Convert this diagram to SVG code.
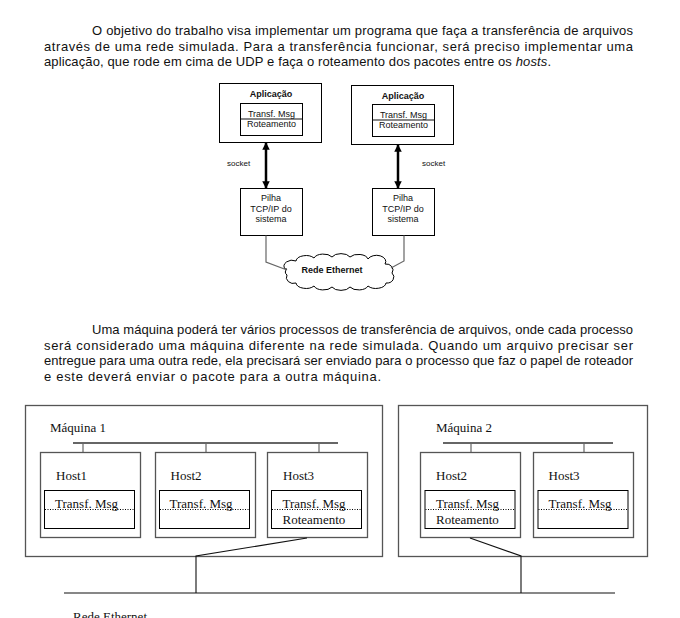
<svg xmlns="http://www.w3.org/2000/svg" width="680" height="618" viewBox="0 0 680 618">
<style>
.p{font-family:"Liberation Sans",Arial,sans-serif;font-size:13px;fill:#111}
.s{font-family:"Liberation Sans",Arial,sans-serif;font-size:9px;fill:#111}
.sb{font-family:"Liberation Sans",Arial,sans-serif;font-size:9px;font-weight:bold;fill:#111}
.sk{font-family:"Liberation Sans",Arial,sans-serif;font-size:8px;fill:#111}
.t{font-family:"Liberation Serif","Times New Roman",serif;font-size:13px;fill:#111}
.bx{fill:#fff;stroke:#000;stroke-width:1}
.gb{fill:#fff;stroke:#555;stroke-width:1.3}
.ib{fill:#fff;stroke:#000;stroke-width:1}
.bus{stroke:#666;stroke-width:2;fill:none}
.ln{stroke:#111;stroke-width:1.1;fill:none}
.gl{stroke:#666;stroke-width:1.2;fill:none}
.dot{stroke:#000;stroke-width:1;stroke-dasharray:1,1.5;fill:none}
.arr{stroke:#000;stroke-width:2.5;fill:none}
</style>
<defs>
<marker id="ah" viewBox="0 0 10 10" refX="9" refY="5" markerWidth="3" markerHeight="3" orient="auto-start-reverse" markerUnits="strokeWidth">
<path d="M0,0 L10,5 L0,10 z" fill="#000"/>
</marker>
</defs>
<rect width="680" height="618" fill="#fff"/>

<g id="para1">
<text class="p" x="92" y="35" textLength="541" lengthAdjust="spacing">O objetivo do trabalho visa implementar um programa que faça a transferência de arquivos</text>
<text class="p" x="44" y="50.5" textLength="589" lengthAdjust="spacing">através de uma rede simulada. Para a transferência funcionar, será preciso implementar uma</text>
<text class="p" x="44" y="66" textLength="507" lengthAdjust="spacing">aplicação, que rode em cima de UDP e faça o roteamento dos pacotes entre os <tspan font-style="italic">hosts</tspan>.</text>
</g>

<g id="app-left">
<rect class="bx" x="219.5" y="83.5" width="102" height="59"/>
<text class="sb" x="271" y="97" text-anchor="middle">Aplicação</text>
<rect class="ib" x="240.5" y="103.5" width="62" height="32"/>
<line class="ln" x1="240.5" y1="119" x2="302.5" y2="119"/>
<text class="s" x="271.5" y="116.5" text-anchor="middle">Transf. Msg</text>
<text class="s" x="271.5" y="127" text-anchor="middle">Roteamento</text>
</g>
<g id="app-right">
<rect class="bx" x="351.5" y="85.5" width="102" height="59"/>
<text class="sb" x="403" y="99" text-anchor="middle">Aplicação</text>
<rect class="ib" x="372.5" y="104.5" width="62" height="32"/>
<line class="ln" x1="372.5" y1="120" x2="434.5" y2="120"/>
<text class="s" x="403.5" y="117.5" text-anchor="middle">Transf. Msg</text>
<text class="s" x="403.5" y="128" text-anchor="middle">Roteamento</text>
</g>
<g id="pilha-left">
<rect class="bx" x="240.5" y="188.5" width="62" height="47"/>
<text class="s" x="271" y="200.5" text-anchor="middle">Pilha</text>
<text class="s" x="271" y="211.5" text-anchor="middle">TCP/IP do</text>
<text class="s" x="271" y="222" text-anchor="middle">sistema</text>
</g>
<g id="pilha-right">
<rect class="bx" x="372.5" y="188.5" width="62" height="47"/>
<text class="s" x="403" y="200.5" text-anchor="middle">Pilha</text>
<text class="s" x="403" y="211.5" text-anchor="middle">TCP/IP do</text>
<text class="s" x="403" y="222" text-anchor="middle">sistema</text>
</g>
<g id="cloud">
<path d="M285,269 a8,6 0 0 1 11,-8 a10,6 0 0 1 18,-3 a10,6 0 0 1 18,-1 a10,6 0 0 1 18,0 a10,6 0 0 1 18,2 a9,6 0 0 1 17,5 a7,6 0 0 1 7,9 a7,6 0 0 1 -6,10 a10,6 0 0 1 -18,3 a10,6 0 0 1 -18,1 a10,6 0 0 1 -18,0 a10,6 0 0 1 -18,-1 a10,6 0 0 1 -18,-3 a7,6 0 0 1 -9,-8 a5,4 0 0 1 0,-6 z" fill="#fff" stroke="#000" stroke-width="1"/>
<text class="sb" x="332" y="273" text-anchor="middle">Rede Ethernet</text>
</g>
<g id="top-connectors">
<line class="arr" x1="266" y1="143" x2="266" y2="188" marker-start="url(#ah)" marker-end="url(#ah)"/>
<line class="arr" x1="398" y1="145" x2="398" y2="188" marker-start="url(#ah)" marker-end="url(#ah)"/>
<text class="sk" x="227" y="166">socket</text>
<text class="sk" x="422" y="166">socket</text>
<polyline class="gl" points="266,235.5 266,262 287,270"/>
<polyline class="gl" points="404,235.5 404,261 391,268"/>
</g>

<g id="para2">
<text class="p" x="92" y="334" textLength="541" lengthAdjust="spacing">Uma máquina poderá ter vários processos de transferência de arquivos, onde cada processo</text>
<text class="p" x="44" y="349.5" textLength="589" lengthAdjust="spacing">será considerado uma máquina diferente na rede simulada. Quando um arquivo precisar ser</text>
<text class="p" x="44" y="365" textLength="589" lengthAdjust="spacing">entregue para uma outra rede, ela precisará ser enviado para o processo que faz o papel de roteador</text>
<text class="p" x="44" y="381" textLength="337" lengthAdjust="spacing">e este deverá enviar o pacote para a outra máquina.</text>
</g>

<g id="maquina1">
<rect class="gb" x="25.5" y="405.5" width="357" height="151"/>
<text class="t" x="50" y="432">Máquina 1</text>
<line class="bus" x1="73" y1="443" x2="338" y2="443"/>
<line class="gl" x1="83" y1="443" x2="83" y2="452"/>
<line class="gl" x1="206" y1="443" x2="206" y2="452"/>
<line class="gl" x1="319" y1="443" x2="319" y2="452"/>
</g>
<g id="m1-host1">
<rect class="gb" x="40.5" y="452.5" width="100" height="85"/>
<text class="t" x="56" y="480">Host1</text>
<rect class="ib" x="44.5" y="490.5" width="90" height="38"/>
<text class="t" x="55" y="507.5">Transf. Msg</text>
<line class="dot" x1="45" y1="509.5" x2="134" y2="509.5"/>
</g>
<g id="m1-host2">
<rect class="gb" x="155.5" y="452.5" width="100" height="85"/>
<text class="t" x="170.5" y="480">Host2</text>
<rect class="ib" x="159.5" y="490.5" width="90" height="38"/>
<text class="t" x="169.5" y="507.5">Transf. Msg</text>
<line class="dot" x1="160" y1="509.5" x2="249" y2="509.5"/>
</g>
<g id="m1-host3">
<rect class="gb" x="267.5" y="452.5" width="100" height="85"/>
<text class="t" x="283" y="480">Host3</text>
<rect class="ib" x="271.5" y="490.5" width="90" height="38"/>
<text class="t" x="282.5" y="507.5">Transf. Msg</text>
<line class="dot" x1="272" y1="509.5" x2="361" y2="509.5"/>
<text class="t" x="282.5" y="523.5">Roteamento</text>
</g>

<g id="maquina2">
<rect class="gb" x="398.5" y="405.5" width="249" height="151"/>
<text class="t" x="436" y="432">Máquina 2</text>
<line class="bus" x1="443" y1="443" x2="613" y2="443"/>
<line class="gl" x1="471" y1="443" x2="471" y2="452"/>
<line class="gl" x1="584" y1="443" x2="584" y2="452"/>
</g>
<g id="m2-host2">
<rect class="gb" x="420.5" y="452.5" width="100" height="85"/>
<text class="t" x="436" y="480">Host2</text>
<rect class="ib" x="425" y="490.5" width="90" height="38"/>
<text class="t" x="436" y="507.5">Transf. Msg</text>
<line class="dot" x1="425.5" y1="509.5" x2="514.5" y2="509.5"/>
<text class="t" x="436" y="523.5">Roteamento</text>
</g>
<g id="m2-host3">
<rect class="gb" x="533.5" y="452.5" width="100" height="85"/>
<text class="t" x="548.5" y="480">Host3</text>
<rect class="ib" x="538" y="490.5" width="90" height="38"/>
<text class="t" x="548.5" y="507.5">Transf. Msg</text>
<line class="dot" x1="538.5" y1="509.5" x2="627.5" y2="509.5"/>
</g>

<g id="bottom-connectors">
<polyline class="ln" points="307,538 196,556 196,593"/>
<polyline class="ln" points="470,538 521,556 521,593"/>
<line class="ln" x1="64" y1="593" x2="615" y2="593"/>
<text class="t" x="73" y="621">Rede Ethernet</text>
</g>
</svg>
